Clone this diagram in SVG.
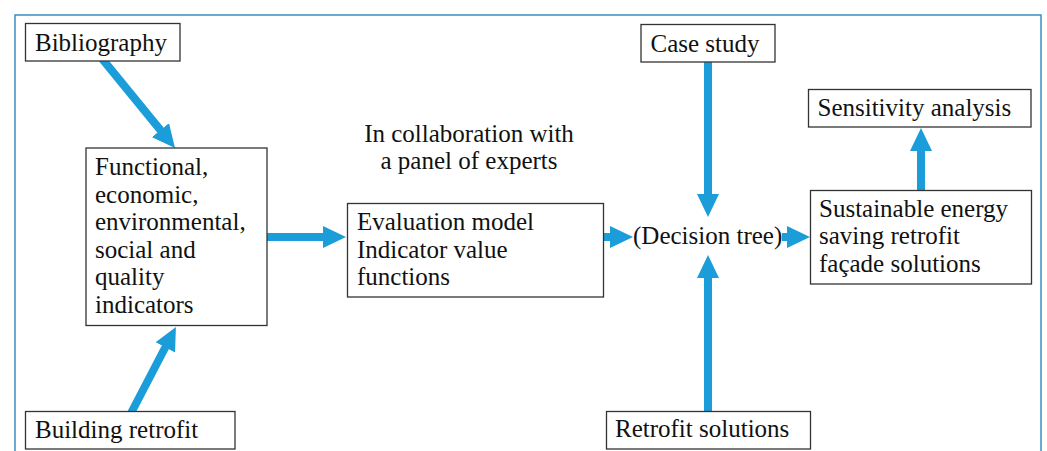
<svg xmlns="http://www.w3.org/2000/svg" width="1047" height="451" viewBox="0 0 1047 451">
<style>
.box{fill:#fff;stroke:#333;stroke-width:1.3}
.t{font-family:"Liberation Serif","Times New Roman",serif;font-size:25px;fill:#111}
.c{stroke:#1b9dd9;stroke-width:8;fill:none;marker-end:url(#ah)}
.frame{fill:none;stroke:#3a8fc2;stroke-width:1.5}
</style>
<defs>
<marker id="ah" markerUnits="userSpaceOnUse" markerWidth="23" markerHeight="22" refX="10" refY="11" orient="auto" viewBox="0 0 23 22">
<path d="M0,0 L23,11 L0,22 z" fill="#1b9dd9"/>
</marker>
</defs>
<rect width="1047" height="451" fill="#fff"/>
<path class="frame" d="M15,452 V15 H1041 V452"/>
<g id="connectors">
<line class="c" x1="100.8" y1="57.1" x2="166.8" y2="137.9"/>
<line class="c" x1="129" y1="417" x2="169.9" y2="338.5"/>
<line class="c" x1="262" y1="237" x2="333" y2="237"/>
<line class="c" x1="598" y1="237" x2="620" y2="237"/>
<line class="c" x1="782" y1="237" x2="797" y2="237"/>
<line class="c" x1="708" y1="57" x2="708" y2="204"/>
<line class="c" x1="708" y1="416" x2="708" y2="268"/>
<line class="c" x1="921" y1="195" x2="921" y2="141"/>
</g>
<g id="bibliography">
<rect class="box" x="25.5" y="23.5" width="154.5" height="37.5"/>
<text class="t" x="35" y="51">Bibliography</text>
</g>
<g id="indicators">
<rect class="box" x="86" y="148" width="181" height="177.5"/>
<text class="t" x="95" y="175">Functional,</text>
<text class="t" x="95" y="202.5">economic,</text>
<text class="t" x="95" y="230">environmental,</text>
<text class="t" x="95" y="257.5">social and</text>
<text class="t" x="95" y="285">quality</text>
<text class="t" x="95" y="312.5">indicators</text>
</g>
<g id="building-retrofit">
<rect class="box" x="25.5" y="411.5" width="209.5" height="37.5"/>
<text class="t" x="35" y="437.5">Building retrofit</text>
</g>
<g id="collaboration">
<text class="t" x="469" y="141.5" text-anchor="middle">In collaboration with</text>
<text class="t" x="469" y="168.5" text-anchor="middle">a panel of experts</text>
</g>
<g id="evaluation-model">
<rect class="box" x="347.5" y="203.5" width="256" height="93.5"/>
<text class="t" x="357" y="230">Evaluation model</text>
<text class="t" x="357" y="257.5">Indicator value</text>
<text class="t" x="357" y="285">functions</text>
</g>
<g id="decision-tree">
<text class="t" x="633" y="243.5">(Decision tree)</text>
</g>
<g id="case-study">
<rect class="box" x="641" y="24.5" width="134" height="37.5"/>
<text class="t" x="650.5" y="52">Case study</text>
</g>
<g id="retrofit-solutions">
<rect class="box" x="606.5" y="411.5" width="204" height="37.5"/>
<text class="t" x="615" y="437">Retrofit solutions</text>
</g>
<g id="sensitivity-analysis">
<rect class="box" x="808.5" y="89.5" width="222.5" height="37.5"/>
<text class="t" x="817.5" y="116">Sensitivity analysis</text>
</g>
<g id="sustainable-solutions">
<rect class="box" x="810.5" y="190.5" width="221" height="93.5"/>
<text class="t" x="819" y="216.5">Sustainable energy</text>
<text class="t" x="819" y="244">saving retrofit</text>
<text class="t" x="819" y="271.5">façade solutions</text>
</g>
</svg>
